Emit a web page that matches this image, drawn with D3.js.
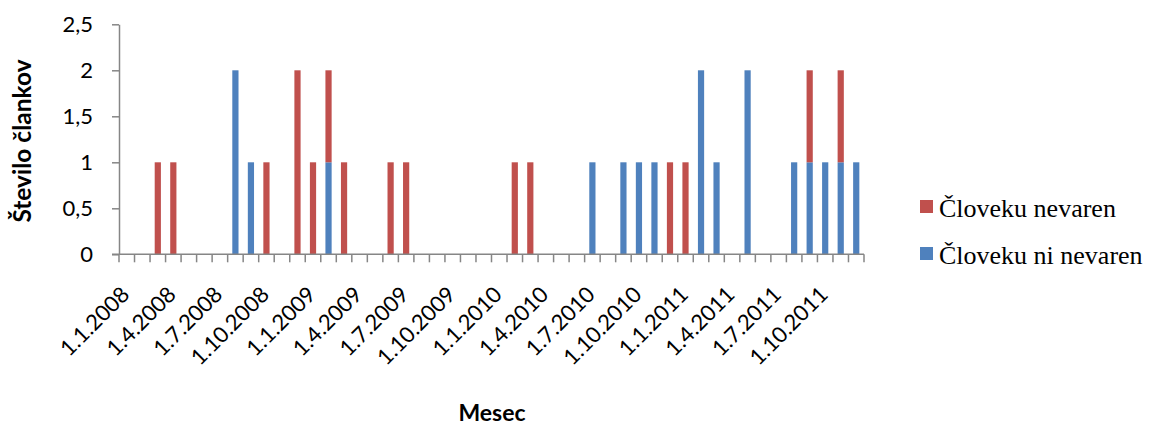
<!DOCTYPE html>
<html>
<head>
<meta charset="utf-8">
<script src="https://cdn.jsdelivr.net/npm/d3@7"></script>
<style>
  html, body { margin: 0; padding: 0; background: #ffffff; }
  svg { display: block; }
</style>
</head>
<body>
<svg id="chart" width="1150" height="427"></svg>
<script>
// ---- data ----
const years = [2008, 2009, 2010, 2011];
const months = d3.range(1, 13);
const categories = years.flatMap(yr => months.map(m => `1.${m}.${yr}`));
const tickLabels = categories.filter(c => [1, 4, 7, 10].includes(+c.split(".")[1]));
// "Človeku nevaren" (red)
const nevaren = [0,0,1,1,0,0,0,0,0,1,0,2, 1,1,1,0,0,1,1,0,0,0,0,0, 0,1,1,0,0,0,0,0,0,0,0,1, 1,0,0,0,0,0,0,0,1,0,1,0];
// "Človeku ni nevaren" (blue)
const niNevaren = [0,0,0,0,0,0,0,2,1,0,0,0, 0,1,0,0,0,0,0,0,0,0,0,0, 0,0,0,0,0,0,1,0,1,1,1,0, 0,2,1,0,2,0,0,1,1,1,1,1];
const yTicks = [0, 0.5, 1, 1.5, 2, 2.5];
const seriesNames = ["Človeku nevaren", "Človeku ni nevaren"];
const colors = { red: "#C0504D", blue: "#4F81BD" };

// ---- layout ----
const svg = d3.select("#chart");
const pLeft = 119, pRight = 864, pTop = 24.3, pBottom = 254.3;
const axisColor = "#868686";

const x = d3.scaleBand().domain(categories).range([pLeft, pRight]).paddingInner(0.6).paddingOuter(0.3);
const y = d3.scaleLinear().domain([0, 2.5]).range([pBottom, pTop]);

const rows = categories.map((c, i) => ({ cat: c, blue: niNevaren[i], red: nevaren[i] }));
const stack = d3.stack().keys(["blue", "red"])(rows);

// bars
svg.append("g").selectAll("g").data(stack).join("g")
  .attr("fill", d => colors[d.key])
  .selectAll("rect").data(d => d.filter(s => s[1] - s[0] > 0)).join("rect")
  .attr("x", d => x(d.data.cat))
  .attr("width", x.bandwidth())
  .attr("y", d => y(d[1]))
  .attr("height", d => y(d[0]) - y(d[1]));

// y axis
const yAxis = svg.append("g").attr("transform", `translate(${pLeft},0)`)
  .call(d3.axisLeft(y).tickValues(yTicks).tickSize(7).tickSizeOuter(0).tickPadding(19)
    .tickFormat(d => String(d).replace(".", ",")));
yAxis.select(".domain").attr("stroke", axisColor).attr("stroke-width", 1.5);
yAxis.selectAll(".tick line").attr("stroke", axisColor).attr("stroke-width", 1.5);
yAxis.selectAll(".tick text").attr("fill", "#000").style("font-family", "Lato").style("font-size", "22px");

// x axis line
svg.append("line").attr("x1", pLeft - 7).attr("x2", pRight).attr("y1", pBottom).attr("y2", pBottom)
  .attr("stroke", axisColor).attr("stroke-width", 1.5);
// x tick marks at category boundaries
const boundaries = categories.map(c => x(c) - x.step() * 0.3).concat([pRight]);
svg.append("g").selectAll("line").data(boundaries).join("line")
  .attr("x1", d => d).attr("x2", d => d).attr("y1", pBottom).attr("y2", pBottom + 8)
  .attr("stroke", axisColor).attr("stroke-width", 1.5);

// x tick labels
svg.append("g").selectAll("text").data(tickLabels).join("text")
  .attr("transform", d => `translate(${x(d) + x.bandwidth() / 2 + 4},296) rotate(-45)`)
  .attr("text-anchor", "end")
  .style("font-family", "Lato").style("font-size", "22px").attr("fill", "#000")
  .text(d => d);

// axis titles
svg.append("text").attr("transform", `translate(31,141) rotate(-90)`)
  .attr("text-anchor", "middle").style("font-family", "Lato").style("font-weight", "bold").style("font-size", "24.5px")
  .text("Število člankov");
svg.append("text").attr("x", 492).attr("y", 421).attr("text-anchor", "middle")
  .style("font-family", "Lato").style("font-weight", "bold").style("font-size", "23px")
  .text("Mesec");

// legend
const legend = svg.append("g").selectAll("g").data([
  { name: seriesNames[0], color: colors.red },
  { name: seriesNames[1], color: colors.blue }
]).join("g").attr("transform", (d, i) => `translate(920,${200 + i * 47})`);
legend.append("rect").attr("width", 13).attr("height", 13).attr("fill", d => d.color);
legend.append("text").attr("x", 19).attr("y", 17)
  .style("font-family", "Liberation Serif").style("font-size", "26px").attr("fill", "#000")
  .text(d => d.name);
</script>
</body>
</html>
